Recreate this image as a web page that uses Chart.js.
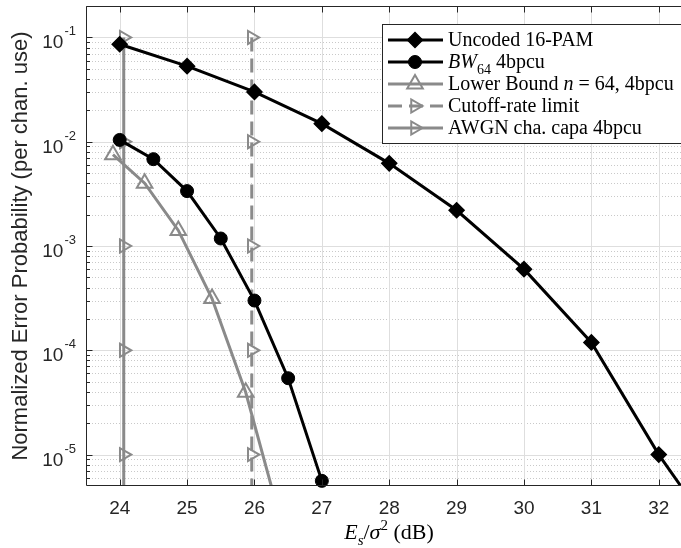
<!DOCTYPE html>
<html>
<head>
<meta charset="utf-8">
<script src="https://cdn.jsdelivr.net/npm/chart.js@4/dist/chart.umd.min.js"></script>
<style>
  html, body { margin: 0; padding: 0; background: #fff; }
</style>
</head>
<body>
<canvas id="chart" width="681" height="548"></canvas>
<script>
// valeurs (Es/sigma^2 en dB, probabilité d'erreur)
const uncodedSnr = [24, 25, 26, 27, 28, 29, 30, 31, 32, 33];
const uncodedPe = [0.086, 0.053, 0.030, 0.0149, 0.0062, 0.0022, 6.0e-4, 1.19e-4, 1.0e-5, 1.2e-6];

const bwSnr = [24, 24.5, 25, 25.5, 26, 26.5, 27];
const bwPe = [0.0104, 0.0068, 0.00336, 0.00118, 3.0e-4, 5.4e-5, 5.6e-6];

const boundSnr = [23.9, 24.37, 24.87, 25.37, 25.87, 26.37];
const boundPe = [0.0075, 0.0040, 0.00141, 3.14e-4, 3.96e-5, 2.6e-6];

const cutoffSnr = [25.96, 25.96, 25.96, 25.96, 25.96, 25.96];
const cutoffPe = [1e-1, 1e-2, 1e-3, 1e-4, 1e-5, 1e-6];

const awgnSnr = [24.06, 24.06, 24.06, 24.06, 24.06, 24.06];
const awgnPe = [1e-1, 1e-2, 1e-3, 1e-4, 1e-5, 1e-6];

const seriesLabels = [
  'Uncoded 16-PAM',
  '$BW$_{64} 4bpcu',
  'Lower Bound $n$ = 64, 4bpcu',
  'Cutoff-rate limit',
  'AWGN cha. capa 4bpcu'
];
const xTickValues = [24, 25, 26, 27, 28, 29, 30, 31, 32];
const yDecades = [-1, -2, -3, -4, -5];
const xTitle = '$E$_{$s$}/$σ$^{2} (dB)';
const yTitle = 'Normalized Error Probability (per chan. use)';

const axisColor = '#262626';
const gray = '#8a8a8a';
const sansFont = '"Liberation Sans", Arial, sans-serif';
const serifFont = '"Liberation Serif", "Times New Roman", serif';

const pts = (xs, ys) => xs.map((x, i) => ({ x, y: ys[i] }));

// petit parseur : $..$ italique, _{..} indice, ^{..} exposant
function parseRich(str) {
  const segs = [];
  let italic = false, buf = '', i = 0;
  const flush = () => { if (buf) segs.push({ t: buf, italic, shift: 0 }); buf = ''; };
  while (i < str.length) {
    const c = str[i];
    if (c === '$') { flush(); italic = !italic; i++; }
    else if ((c === '_' || c === '^') && str[i + 1] === '{') {
      flush();
      const end = str.indexOf('}', i);
      let inner = str.slice(i + 2, end);
      const it = inner.startsWith('$');
      inner = inner.replace(/\$/g, '');
      segs.push({ t: inner, italic: it, shift: c === '_' ? 1 : -1 });
      i = end + 1;
    } else { buf += c; i++; }
  }
  flush();
  return segs;
}

function drawRich(ctx, str, x, y, size, align) {
  const segs = parseRich(str);
  const fontOf = s => (s.italic ? 'italic ' : '') + (s.shift ? Math.round(size * 0.7) : size) + 'px ' + serifFont;
  let total = 0;
  segs.forEach(s => { ctx.font = fontOf(s); s.w = ctx.measureText(s.t).width; total += s.w; });
  let cx = align === 'center' ? x - total / 2 : x;
  ctx.textAlign = 'left';
  ctx.textBaseline = 'alphabetic';
  segs.forEach(s => {
    ctx.font = fontOf(s);
    const dy = s.shift > 0 ? size * 0.28 : s.shift < 0 ? -size * 0.42 : 0;
    ctx.fillText(s.t, cx, y + dy);
    cx += s.w;
  });
}

function noPadding(s) {
  s.paddingLeft = 0; s.paddingRight = 0; s.paddingTop = 0; s.paddingBottom = 0;
}

const decor = {
  id: 'decor',
  beforeDatasetsDraw(chart) {
    const { ctx, chartArea: a, scales: { x, y } } = chart;
    ctx.save();
    ctx.lineWidth = 1;
    // grille mineure en pointillés
    ctx.strokeStyle = '#c9c9c9';
    ctx.setLineDash([1, 2]);
    for (let e = -6; e <= -1; e++) {
      for (let m = 2; m <= 9; m++) {
        const v = m * Math.pow(10, e);
        if (v < y.min || v > y.max) continue;
        const py = Math.round(y.getPixelForValue(v)) + 0.5;
        ctx.beginPath(); ctx.moveTo(a.left, py); ctx.lineTo(a.right, py); ctx.stroke();
      }
    }
    // grille principale
    ctx.setLineDash([]);
    ctx.strokeStyle = '#dedede';
    yDecades.forEach(e => {
      const py = Math.round(y.getPixelForValue(Math.pow(10, e))) + 0.5;
      ctx.beginPath(); ctx.moveTo(a.left, py); ctx.lineTo(a.right, py); ctx.stroke();
    });
    xTickValues.forEach(v => {
      const px = Math.round(x.getPixelForValue(v)) + 0.5;
      ctx.beginPath(); ctx.moveTo(px, a.top); ctx.lineTo(px, a.bottom); ctx.stroke();
    });
    ctx.restore();
  },
  afterDatasetsDraw(chart) {
    const { ctx, chartArea: a, scales: { x, y } } = chart;
    ctx.save();
    // cadre + graduations vers l'intérieur
    ctx.strokeStyle = axisColor;
    ctx.lineWidth = 1;
    const L = a.left + 0.5, R = a.right + 0.5, T = a.top + 0.5, B = a.bottom - 0.5;
    ctx.beginPath();
    ctx.moveTo(L, T); ctx.lineTo(R, T); ctx.lineTo(R, B); ctx.lineTo(L, B); ctx.closePath();
    ctx.stroke();
    ctx.beginPath();
    xTickValues.forEach(v => {
      const px = Math.round(x.getPixelForValue(v)) + 0.5;
      ctx.moveTo(px, B); ctx.lineTo(px, B - 6);
      ctx.moveTo(px, T); ctx.lineTo(px, T + 6);
    });
    for (let e = -6; e <= -1; e++) {
      for (let m = 1; m <= 9; m++) {
        const v = m * Math.pow(10, e);
        if (v < y.min || v > y.max) continue;
        const py = Math.round(y.getPixelForValue(v)) + 0.5;
        const len = m === 1 ? 6 : 3.5;
        ctx.moveTo(L, py); ctx.lineTo(L + len, py);
      }
    }
    ctx.stroke();

    // étiquettes de l'axe y en puissances de 10
    ctx.fillStyle = axisColor;
    ctx.textBaseline = 'alphabetic';
    yDecades.forEach(e => {
      const py = y.getPixelForValue(Math.pow(10, e));
      ctx.font = '13px ' + sansFont;
      const ex = '-' + Math.abs(e);
      const ew = ctx.measureText(ex).width;
      const right = a.left - 10;
      ctx.textAlign = 'left';
      ctx.fillText(ex, right - ew, py - 2);
      ctx.font = '19px ' + sansFont;
      ctx.textAlign = 'right';
      ctx.fillText('10', right - ew - 1, py + 11);
    });

    // titre de l'axe x
    ctx.fillStyle = '#000';
    drawRich(ctx, xTitle, 389, 539, 22, 'center');

    // légende
    const box = { left: 382.5, top: 24.5, right: 684, bottom: 143.5 };
    ctx.fillStyle = '#fff';
    ctx.fillRect(box.left, box.top, box.right - box.left, box.bottom - box.top);
    ctx.strokeStyle = axisColor;
    ctx.lineWidth = 1;
    ctx.strokeRect(box.left, box.top, box.right - box.left, box.bottom - box.top);
    chart.data.datasets.forEach((ds, i) => {
      const ry = 40 + i * 22;
      ctx.save();
      ctx.strokeStyle = ds.borderColor;
      ctx.lineWidth = ds.borderWidth;
      ctx.setLineDash(ds.borderDash || []);
      ctx.beginPath(); ctx.moveTo(388, ry); ctx.lineTo(443, ry); ctx.stroke();
      ctx.setLineDash([]);
      ctx.fillStyle = ds.pointBackgroundColor;
      ctx.strokeStyle = ds.pointBorderColor;
      ctx.lineWidth = ds.pointBorderWidth;
      Chart.helpers.drawPoint(ctx, {
        pointStyle: ds.pointStyle, rotation: ds.pointRotation || 0,
        radius: ds.pointRadius, borderWidth: ds.pointBorderWidth
      }, 415, ry);
      ctx.restore();
      ctx.fillStyle = '#000';
      drawRich(ctx, seriesLabels[i], 448, ry + 6, 20, 'left');
    });
    ctx.restore();
  }
};

new Chart(document.getElementById('chart'), {
  type: 'line',
  data: {
    datasets: [
      {
        label: seriesLabels[0], data: pts(uncodedSnr, uncodedPe),
        borderColor: '#000', borderWidth: 3,
        pointStyle: 'rectRot', pointRadius: 7.5, pointBorderWidth: 1.5,
        pointBackgroundColor: '#000', pointBorderColor: '#000'
      },
      {
        label: seriesLabels[1], data: pts(bwSnr, bwPe),
        borderColor: '#000', borderWidth: 3, clip: 8,
        pointStyle: 'circle', pointRadius: 6.5, pointBorderWidth: 1,
        pointBackgroundColor: '#000', pointBorderColor: '#000'
      },
      {
        label: seriesLabels[2], data: pts(boundSnr, boundPe),
        borderColor: gray, borderWidth: 3,
        pointStyle: 'triangle', pointRadius: 9, pointBorderWidth: 2,
        pointBackgroundColor: 'rgba(0,0,0,0)', pointBorderColor: gray
      },
      {
        label: seriesLabels[3], data: pts(cutoffSnr, cutoffPe),
        borderColor: gray, borderWidth: 3, borderDash: [14, 7],
        pointStyle: 'triangle', pointRotation: 90, pointRadius: 7.5, pointBorderWidth: 2,
        pointBackgroundColor: 'rgba(0,0,0,0)', pointBorderColor: gray
      },
      {
        label: seriesLabels[4], data: pts(awgnSnr, awgnPe),
        borderColor: gray, borderWidth: 3,
        pointStyle: 'triangle', pointRotation: 90, pointRadius: 7.5, pointBorderWidth: 2,
        pointBackgroundColor: 'rgba(0,0,0,0)', pointBorderColor: gray
      }
    ]
  },
  options: {
    responsive: false,
    animation: false,
    devicePixelRatio: 1,
    layout: { autoPadding: false, padding: { top: 6, right: 0, left: 0, bottom: 0 } },
    elements: { line: { tension: 0 } },
    plugins: { legend: { display: false }, tooltip: { enabled: false } },
    scales: {
      x: {
        type: 'linear', min: 23.5, max: 32.33,
        grid: { display: false, drawTicks: false },
        border: { display: false },
        ticks: {
          stepSize: 1, includeBounds: false, padding: 11, maxRotation: 0,
          color: axisColor, font: { family: sansFont, size: 19 }
        },
        afterFit(s) { s.height = 62; noPadding(s); }
      },
      y: {
        type: 'logarithmic', min: 5e-6, max: 0.2,
        grid: { display: false, drawTicks: false },
        border: { display: false },
        ticks: { display: false },
        title: {
          display: true, text: yTitle, color: axisColor,
          font: { family: sansFont, size: 22 }, padding: { top: 8, bottom: 0 }
        },
        afterFit(s) { s.width = 86; noPadding(s); }
      }
    }
  },
  plugins: [decor]
});
</script>
</body>
</html>
